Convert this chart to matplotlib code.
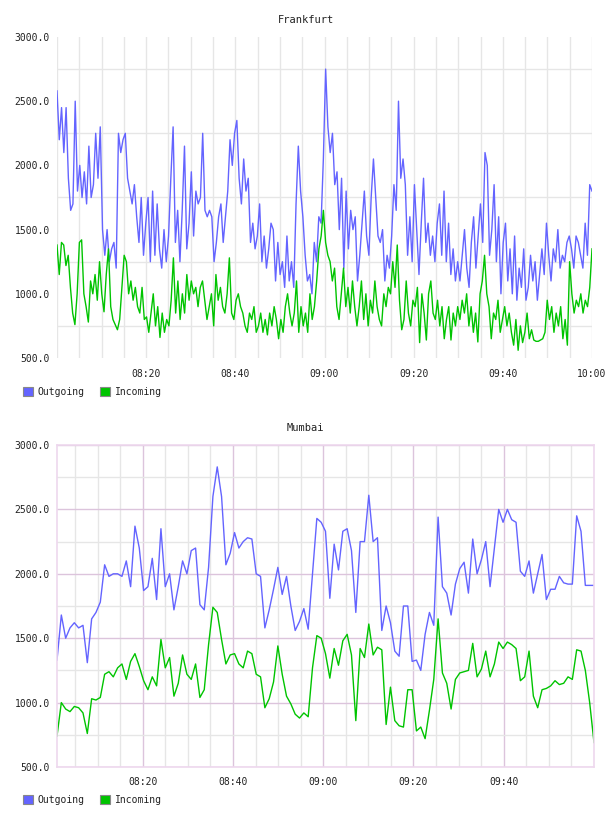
import pandas as pd
import matplotlib
matplotlib.use('Agg')
import matplotlib.pyplot as plt
import matplotlib.dates as mdates
from matplotlib.patches import Patch

# ==============================
# DATA
# ==============================
DAY = '2013-06-01 '

FRA_START, FRA_END = DAY + '08:00', DAY + '10:00'
MUM_START, MUM_END = DAY + '08:01', DAY + '10:00'

fra_outgoing = [
    2580, 2200, 2450, 2100, 2450, 1900, 1650, 1700, 2500, 1800, 2000, 1750, 1950, 1700,
    2150, 1750, 1850, 2250, 1900, 2300, 1500, 1300, 1500, 1250, 1350, 1400, 1200, 2250,
    2100, 2200, 2250, 1900, 1800, 1700, 1850, 1600, 1400, 1750, 1300, 1550, 1750, 1250,
    1800, 1300, 1700, 1350, 1200, 1500, 1250, 1450, 1900, 2300,
    1400, 1650, 1250, 1650, 2150, 1350, 1550, 1950, 1450, 1800, 1700, 1750, 2250, 1650,
    1600, 1650, 1600, 1250, 1400, 1600, 1700, 1400, 1600, 1800, 2200, 2000, 2250, 2350,
    1900, 1700, 2050, 1800, 1900, 1400, 1550, 1350, 1450, 1700, 1250, 1450, 1200, 1350,
    1550, 1500, 1100, 1400, 1150, 1250, 1050, 1450, 1100, 1250, 1050, 1700, 2150, 1800,
    1600, 1300, 1100, 1150, 1000, 1400, 1250, 1600, 1550, 2050, 2750,
    2300, 2100, 2250, 1850, 1950, 1500, 1900, 1200, 1800, 1350, 1650, 1500, 1600, 1100,
    1300, 1550, 1800, 1450, 1300, 1750, 2050, 1750, 1450, 1400, 1500, 1100, 1300, 1200,
    1450, 1850, 1650, 2500,
    1900, 2050, 1850, 1300, 1600, 1250, 1850, 1500, 1150, 1550, 1900, 1400, 1550, 1300,
    1450, 1250, 1550, 1700, 1300, 1800, 1250, 1550, 1150, 1350, 1100, 1250, 1100, 1300,
    1500, 1200, 1050, 1400, 1600, 1200, 1450, 1700, 1400, 2100,
    2000, 1300, 1500, 1850, 1250, 1600, 1000, 1400, 1550, 1100, 1350, 1000, 1450, 950,
    1200, 1050, 1350, 950, 1050, 1300, 1100, 1250, 950, 1150, 1350, 1150, 1550, 1300,
    1100, 1350, 1250, 1500, 1200, 1300, 1250, 1400, 1450, 1350, 1200, 1450, 1400, 1300,
    1200, 1550, 1300, 1850, 1800,
]

fra_incoming = [
    1380, 1150, 1400, 1380, 1220, 1300, 1050, 850, 760, 1000,
    1400, 1420, 1000, 900, 780, 1100, 1000, 1150, 950, 1250,
    1000, 860, 1150, 1350, 900, 800, 760, 720, 800, 1050,
    1300, 1250, 1000, 1100, 950, 1050, 900, 850, 1050, 800,
    820, 700, 850, 1000, 750, 900, 660, 850, 700, 800,
    750, 950, 1280, 850, 1100, 800, 1000, 850, 1150, 950,
    1100, 1000, 1050, 900, 1050, 1100, 950, 800, 900, 1000,
    750, 1150, 950, 1050, 900, 850, 1000, 1280, 850, 800,
    950, 1000, 900, 850, 750, 700, 850, 800, 900, 700,
    750, 850, 700, 800, 680, 850, 750, 900, 800, 650,
    800, 700, 900, 1000, 850, 750, 850, 1100, 700, 900,
    750, 850, 700, 1000, 800, 900, 1100, 1350, 1450, 1650,
    1400, 1300, 1250, 1100, 1200, 900, 800, 1000, 1200, 900,
    1050, 850, 1100, 900, 750, 900, 1100, 800, 1000, 750,
    950, 850, 1100, 900, 800, 750, 1000, 900, 1050, 1000,
    1250, 1050, 1380, 950, 720, 800, 1100, 850, 750, 950,
    900, 1050, 620, 1000, 850, 640, 1000, 1100, 850, 800,
    950, 750, 900, 650, 800, 900, 640, 850, 750, 900,
    800, 950, 850, 1000, 750, 900, 700, 850, 625, 1000,
    1100, 1300, 1000, 900, 650, 850, 800, 950, 700, 800,
    900, 750, 850, 700, 600, 800, 560, 750, 620, 700,
    850, 650, 720, 640, 630, 630, 640, 650, 700, 950,
    800, 900, 700, 850, 750, 900, 650, 800, 600, 1250,
    1000, 850, 950, 900, 1000, 850, 950, 900, 1050, 1350,
]

mum_outgoing = [
    1330, 1680, 1500, 1580, 1620, 1580, 1600, 1310, 1650, 1700,
    1780, 2070, 1980, 2000, 2000, 1980, 2100, 1900, 2370, 2200,
    1870, 1900, 2120, 1800, 2350, 1900, 2000, 1720, 1900, 2100,
    2000, 2180, 2200, 1760, 1720, 2050, 2600, 2830, 2600, 2070,
    2160, 2320, 2200, 2250, 2280, 2270, 2000, 1980, 1580, 1720,
    1880, 2050, 1840, 1980, 1750, 1560, 1630, 1730, 1570, 2000,
    2430, 2400, 2330, 1810, 2230, 2030, 2330, 2350, 2180, 1700,
    2250, 2250, 2610, 2250, 2280, 1560, 1750, 1620, 1400, 1360,
    1750, 1750, 1320, 1330, 1250, 1530, 1700, 1600, 2440, 1900,
    1850, 1680, 1920, 2040, 2090, 1850, 2270, 2000, 2110, 2250,
    1900, 2200, 2500, 2400, 2500, 2420, 2400, 2020, 1980, 2100,
    1850, 2000, 2150, 1800, 1880, 1880, 1980, 1930, 1920, 1920,
    2450, 2330, 1910, 1910, 1910,
]

mum_incoming = [
    740, 1000, 950, 930, 970, 960, 920, 760, 1030, 1020,
    1040, 1220, 1240, 1200, 1270, 1300, 1180, 1320, 1380, 1280,
    1170, 1100, 1200, 1130, 1490, 1270, 1350, 1050, 1150, 1370,
    1220, 1180, 1300, 1040, 1100, 1450, 1740, 1700, 1490, 1300,
    1370, 1380, 1300, 1270, 1400, 1380, 1220, 1200, 960, 1030,
    1160, 1440, 1220, 1050, 990, 910, 880, 920, 890, 1270,
    1520, 1500, 1380, 1190, 1420, 1290, 1480, 1530, 1370, 860,
    1420, 1350, 1610, 1370, 1430, 1410, 830, 1120, 860, 820,
    810, 1100, 1100, 780, 810, 720, 940, 1180, 1650, 1230,
    1150, 950, 1180, 1230, 1240, 1250, 1460, 1200, 1260, 1400,
    1200, 1300, 1470, 1420, 1470, 1450, 1420, 1170, 1200, 1400,
    1050, 960, 1100, 1110, 1130, 1170, 1140, 1150, 1200, 1180,
    1410, 1400, 1250, 1000, 690,
]

Y_TICKS = [500, 1000, 1500, 2000, 2500, 3000]
Y_MINOR = [750, 1250, 1750, 2250, 2750]
FRA_LABELS = ['08:20', '08:40', '09:00', '09:20', '09:40', '10:00']
MUM_LABELS = ['08:20', '08:40', '09:00', '09:20', '09:40']

# ==============================
# STYLE
# ==============================
OUT_COLOR = '#6464ff'
IN_COLOR = '#00c400'
GRID_GREY = '#e6e6e6'
GRID_PINK = '#dcc4dc'
FRAME_PINK = '#eed8ee'
TEXT_COLOR = '#222222'
FONT = 'DejaVu Sans Mono'
FS = 7

plt.rcParams['font.family'] = FONT
plt.rcParams['font.size'] = FS


def times_for(values, start, end):
    return pd.date_range(start, end, periods=len(values))


def style_axes(ax, start, end, labels, pink, xpad):
    ax.set_xlim(pd.Timestamp(start), pd.Timestamp(end))
    ax.set_ylim(500, 3000)

    ax.set_yticks(Y_TICKS)
    ax.set_yticklabels([f'{v:.1f}' for v in Y_TICKS])
    ax.set_yticks(Y_MINOR, minor=True)

    ax.set_xticks([pd.Timestamp(DAY + l) for l in labels])
    ax.xaxis.set_major_formatter(mdates.DateFormatter('%H:%M'))
    ax.xaxis.set_minor_locator(mdates.MinuteLocator(byminute=range(0, 60, 5)))

    ax.tick_params(which='both', length=0, colors=TEXT_COLOR, labelsize=FS)
    ax.tick_params(axis='y', pad=5)
    ax.tick_params(axis='x', pad=xpad)
    ax.set_axisbelow(True)

    ax.grid(which='minor', color=GRID_GREY, linewidth=1.0)
    if pink:
        ax.grid(which='major', color=GRID_PINK, linewidth=1.0)
        for s in ax.spines.values():
            s.set_color(FRAME_PINK)
            s.set_linewidth(1.2)
    else:
        ax.grid(which='major', axis='x', color=GRID_GREY, linewidth=1.0)
        for s in ax.spines.values():
            s.set_visible(False)


def add_legend(fig, y_px):
    handles = [
        Patch(facecolor=OUT_COLOR, edgecolor='#888888', linewidth=0.8, label='Outgoing'),
        Patch(facecolor=IN_COLOR, edgecolor='#888888', linewidth=0.8, label='Incoming'),
    ]
    fig.legend(handles=handles, loc='center left', bbox_to_anchor=(23 / 608, 1 - y_px / 816),
               ncol=2, frameon=False, borderpad=0, borderaxespad=0,
               handlelength=1.0, handleheight=1.0, handletextpad=0.5,
               columnspacing=1.6, prop={'family': FONT, 'size': FS}, labelcolor=TEXT_COLOR)


# ==============================
# FIGURE
# ==============================
fig = plt.figure(figsize=(6.08, 8.16), dpi=100, facecolor='white')

ax1 = fig.add_axes([57 / 608, 1 - 358 / 816, 535 / 608, 321 / 816])
ax1.plot(times_for(fra_outgoing, FRA_START, FRA_END), fra_outgoing, color=OUT_COLOR, lw=1.0)
ax1.plot(times_for(fra_incoming, FRA_START, FRA_END), fra_incoming, color=IN_COLOR, lw=1.0)
style_axes(ax1, FRA_START, FRA_END, FRA_LABELS, pink=False, xpad=8)
fig.text(306 / 608, 1 - 20 / 816, 'Frankfurt', ha='center', va='center',
         color=TEXT_COLOR, fontsize=FS + 0.5)
add_legend(fig, 392)

ax2 = fig.add_axes([57 / 608, 1 - 767 / 816, 537 / 608, 322 / 816])
ax2.plot(times_for(mum_outgoing, MUM_START, MUM_END), mum_outgoing, color=OUT_COLOR, lw=1.0)
ax2.plot(times_for(mum_incoming, MUM_START, MUM_END), mum_incoming, color=IN_COLOR, lw=1.0)
style_axes(ax2, MUM_START, MUM_END, MUM_LABELS, pink=True, xpad=7)
fig.text(305 / 608, 1 - 428 / 816, 'Mumbai', ha='center', va='center',
         color=TEXT_COLOR, fontsize=FS + 0.5)
add_legend(fig, 800)

fig.savefig('out.png', dpi=100, facecolor='white')
